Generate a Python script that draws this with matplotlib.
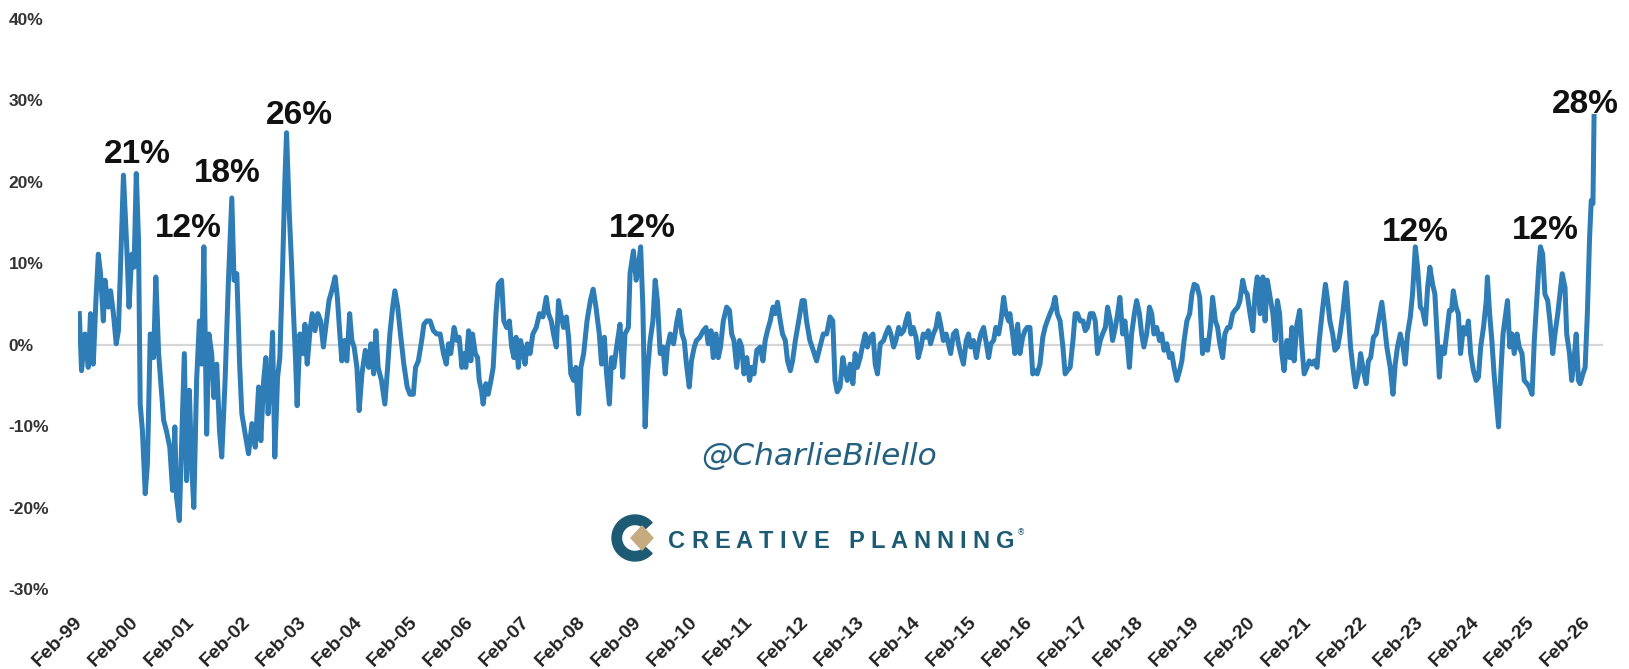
import matplotlib.pyplot as plt
import numpy as np
from matplotlib.font_manager import FontProperties
from matplotlib.patches import Polygon, Wedge
from matplotlib.transforms import IdentityTransform

# Rolling % change, sampled roughly every two to three weeks (decimal years)
dates = [
    1999.07, 1999.11, 1999.17, 1999.23, 1999.27, 1999.32, 1999.37, 1999.41, 1999.45, 1999.50,
    1999.53, 1999.59, 1999.63, 1999.68, 1999.73, 1999.77, 1999.80, 1999.86, 1999.92, 1999.96,
    2000.01, 2000.05, 2000.09, 2000.13, 2000.16, 2000.20, 2000.25, 2000.29, 2000.34, 2000.40,
    2000.44, 2000.49, 2000.53, 2000.58, 2000.63, 2000.69, 2000.74, 2000.78, 2000.81, 2000.86,
    2000.90, 2000.95, 2000.99, 2001.04, 2001.08, 2001.12, 2001.17, 2001.22, 2001.26, 2001.30,
    2001.35, 2001.39, 2001.44, 2001.48, 2001.53, 2001.58, 2001.62, 2001.68, 2001.74, 2001.80,
    2001.84, 2001.89, 2001.94, 2001.98, 2002.04, 2002.10, 2002.16, 2002.22, 2002.28,
    2002.32, 2002.37, 2002.41, 2002.45, 2002.50, 2002.53, 2002.57, 2002.62, 2002.66, 2002.71,
    2002.75, 2002.78, 2002.83, 2002.87, 2002.90, 2002.94, 2002.97, 2003.02, 2003.07, 2003.11,
    2003.15, 2003.20, 2003.24, 2003.29, 2003.34, 2003.39, 2003.44, 2003.49, 2003.54, 2003.59,
    2003.65, 2003.69, 2003.73, 2003.77, 2003.82, 2003.86, 2003.91, 2003.95, 2003.99, 2004.04,
    2004.08, 2004.13, 2004.19, 2004.25, 2004.29, 2004.34, 2004.38, 2004.42, 2004.48, 2004.54,
    2004.59, 2004.63, 2004.68, 2004.72, 2004.77, 2004.82, 2004.88, 2004.94, 2004.99, 2005.05,
    2005.09, 2005.14, 2005.20, 2005.24, 2005.29, 2005.35, 2005.41, 2005.47,
    2005.53, 2005.59, 2005.64, 2005.68, 2005.72, 2005.78, 2005.83, 2005.87, 2005.92, 2005.96,
    2005.99, 2006.04, 2006.08, 2006.11, 2006.16, 2006.20, 2006.23, 2006.27, 2006.30, 2006.35,
    2006.39, 2006.44, 2006.48, 2006.53, 2006.57, 2006.63, 2006.67, 2006.72, 2006.77, 2006.81,
    2006.85, 2006.89, 2006.93, 2006.97, 2007.01, 2007.05, 2007.09, 2007.14, 2007.19, 2007.25,
    2007.31, 2007.37, 2007.43, 2007.47, 2007.52, 2007.56, 2007.61, 2007.65, 2007.69, 2007.74,
    2007.79, 2007.83, 2007.87, 2007.92, 2007.96, 2008.01, 2008.05, 2008.10, 2008.16, 2008.22,
    2008.27, 2008.32, 2008.38, 2008.42, 2008.47, 2008.51, 2008.56, 2008.60, 2008.64, 2008.69,
    2008.75, 2008.80, 2008.84, 2008.90,
    2008.93, 2008.99, 2009.04, 2009.08, 2009.12, 2009.16, 2009.20, 2009.24, 2009.29, 2009.34,
    2009.38, 2009.42, 2009.47, 2009.52, 2009.56, 2009.60, 2009.65, 2009.71, 2009.77, 2009.81,
    2009.86, 2009.90, 2009.94, 2009.99, 2010.03, 2010.08, 2010.12, 2010.18, 2010.24, 2010.29,
    2010.33, 2010.38, 2010.42, 2010.47, 2010.51, 2010.55, 2010.60, 2010.66, 2010.71, 2010.75,
    2010.79, 2010.84, 2010.89, 2010.93, 2010.97, 2011.02, 2011.07, 2011.11, 2011.15, 2011.20,
    2011.26, 2011.31, 2011.35, 2011.39, 2011.44, 2011.49, 2011.53, 2011.57, 2011.62, 2011.66,
    2011.71, 2011.75, 2011.80, 2011.84, 2011.89, 2011.95, 2012.01, 2012.05, 2012.09, 2012.15,
    2012.21, 2012.27,
    2012.33, 2012.39, 2012.45, 2012.51, 2012.56, 2012.60, 2012.64, 2012.69, 2012.74, 2012.78,
    2012.82, 2012.87, 2012.92, 2012.96, 2013.00, 2013.05, 2013.10, 2013.14, 2013.18, 2013.23,
    2013.28, 2013.32, 2013.36, 2013.41, 2013.47, 2013.51, 2013.56, 2013.60, 2013.65, 2013.69,
    2013.74, 2013.78, 2013.83, 2013.87, 2013.91, 2013.96, 2014.00, 2014.05, 2014.09, 2014.14,
    2014.18, 2014.23, 2014.27, 2014.31, 2014.36, 2014.41, 2014.45, 2014.49, 2014.54, 2014.59,
    2014.63, 2014.67, 2014.72, 2014.77, 2014.81, 2014.85, 2014.90, 2014.95, 2014.99, 2015.03,
    2015.08, 2015.13, 2015.17, 2015.21, 2015.26, 2015.31, 2015.35, 2015.39, 2015.44, 2015.48,
    2015.53, 2015.57, 2015.62, 2015.66, 2015.71,
    2015.73, 2015.78, 2015.82, 2015.87, 2015.91, 2015.96, 2016.00, 2016.04, 2016.09, 2016.14,
    2016.18, 2016.22, 2016.27, 2016.32, 2016.36, 2016.40, 2016.45, 2016.50, 2016.54, 2016.58,
    2016.63, 2016.68, 2016.72, 2016.76, 2016.81, 2016.86, 2016.90, 2016.94, 2016.99, 2017.04,
    2017.08, 2017.12, 2017.17, 2017.22, 2017.26, 2017.30, 2017.35, 2017.39, 2017.44, 2017.48,
    2017.53, 2017.57, 2017.62, 2017.66, 2017.70, 2017.75, 2017.79, 2017.84, 2017.87, 2017.91,
    2017.96, 2018.00, 2018.05, 2018.09, 2018.13, 2018.18, 2018.23, 2018.27, 2018.31, 2018.36,
    2018.41, 2018.45, 2018.49, 2018.54, 2018.59, 2018.63, 2018.67, 2018.72, 2018.77, 2018.81,
    2018.85, 2018.90, 2018.95, 2018.99, 2019.03, 2019.08, 2019.13,
    2019.18, 2019.23, 2019.27, 2019.32, 2019.36, 2019.41, 2019.45, 2019.49, 2019.54, 2019.58,
    2019.63, 2019.67, 2019.72, 2019.76, 2019.81, 2019.85, 2019.90, 2019.94, 2019.98, 2020.03,
    2020.08, 2020.12, 2020.16, 2020.21, 2020.26, 2020.30, 2020.34, 2020.39, 2020.44, 2020.48,
    2020.52, 2020.56, 2020.60, 2020.64, 2020.69, 2020.74, 2020.78, 2020.82, 2020.87, 2020.92,
    2020.96, 2021.00, 2021.05, 2021.09, 2021.14, 2021.18, 2021.23, 2021.27, 2021.32, 2021.38,
    2021.42, 2021.46, 2021.51, 2021.55, 2021.60, 2021.64, 2021.69, 2021.75, 2021.79, 2021.83,
    2021.88, 2021.92, 2021.97, 2022.01, 2022.06, 2022.11, 2022.15, 2022.19, 2022.24, 2022.29,
    2022.33, 2022.39, 2022.43, 2022.48,
    2022.54, 2022.59, 2022.63, 2022.67, 2022.72, 2022.77, 2022.81, 2022.85, 2022.90, 2022.94,
    2022.99, 2023.03, 2023.08, 2023.12, 2023.17, 2023.21, 2023.25, 2023.30, 2023.34, 2023.39,
    2023.42, 2023.46, 2023.51, 2023.55, 2023.60, 2023.64, 2023.67, 2023.72, 2023.76, 2023.80,
    2023.85, 2023.90, 2023.94, 2023.98, 2024.03, 2024.08, 2024.12, 2024.16, 2024.21, 2024.26,
    2024.28, 2024.32, 2024.36, 2024.40, 2024.45, 2024.48, 2024.52, 2024.56, 2024.60, 2024.64,
    2024.68, 2024.72, 2024.76, 2024.81, 2024.85, 2024.90, 2024.94, 2024.99, 2025.03, 2025.08,
    2025.12, 2025.15, 2025.20, 2025.23, 2025.27, 2025.31, 2025.36, 2025.40, 2025.45, 2025.49,
    2025.54, 2025.58, 2025.62, 2025.67, 2025.70, 2025.75, 2025.79, 2025.83, 2025.87, 2025.91,
    2025.94, 2025.99, 2026.03, 2026.07, 2026.11, 2026.14, 2026.17, 2026.19,
]

pct = [
    3.8, -3.2, 1.3, -2.8, 3.8, -2.4, 5.8, 11.1, 8.7, 2.9,
    7.9, 4.6, 6.6, 3.8, 0.1, 1.7, 7.9, 20.8, 11.9, 4.6,
    11.1, 9.5, 21.0, 12.8, -7.3, -10.6, -18.3, -14.6, 1.3, -1.6,
    8.3, -1.1, -4.8, -9.3, -10.6, -12.6, -17.9, -10.1, -18.7, -21.6,
    -12.6, -1.1, -16.7, -5.6, -14.6, -20.0, -4.4, 2.9, -2.4, 12.0,
    -11.0, 1.3, -1.1, -6.5, -2.4, -10.6, -13.8, -4.4, 7.9, 18.0,
    7.9, 8.7, -2.4, -8.5, -11.0, -13.4, -9.7, -12.6, -5.2,
    -11.8, -4.4, -1.6, -8.5, -3.2, 1.5, -13.8, -4.0, -1.6, 9.5,
    20.1, 26.0, 16.0, 9.9, 4.6, -1.6, -7.5, 1.3, -1.1, 2.5,
    -2.4, 1.7, 3.8, 1.7, 3.8, 2.9, -0.3, 2.5, 5.4, 6.6,
    8.3, 5.8, 1.7, -2.0, 0.5, -2.0, 3.8, 0.5, -0.3, -2.8,
    -8.1, -3.6, -0.7, -2.8, 0.1, -3.6, 1.7, -2.8, -4.4, -7.3,
    -2.8, 1.3, 4.6, 6.6, 4.6, 1.3, -2.4, -5.2, -6.1, -6.1,
    -2.8, -2.0, 0.5, 2.5, 2.9, 2.9, 1.7, 1.3,
    1.3, -1.1, -2.4, 0.1, -1.1, 2.1, 0.5, 0.9, -2.8, -1.1,
    -2.8, 1.7, -2.0, 1.3, -1.1, -1.6, -4.4, -5.6, -7.3, -4.8,
    -6.1, -4.4, -2.8, 3.8, 7.4, 7.9, 2.9, 2.1, 2.9, -0.3,
    -1.6, 0.9, -2.8, 0.5, -0.7, -2.4, 0.1, -1.1, 1.3, 2.1,
    3.8, 3.4, 5.8, 3.8, 2.9, 1.3, -0.3, 5.4, 3.8, 2.1,
    3.4, 0.9, -3.6, -4.4, -2.8, -8.5, -2.8, -1.1, 2.9, 5.4,
    6.8, 4.6, 1.3, -2.4, 0.9, -3.6, -7.3, -1.6, -2.8, -0.3,
    2.5, -4.0, 1.3, 2.1,
    8.7, 11.5, 7.9, 9.5, 12.0, 4.6, -10.1, -3.6, 0.5, 2.9,
    7.9, 5.4, -1.1, -0.3, -3.6, -0.3, 1.3, 0.1, 2.9, 4.2,
    1.3, 0.5, -2.4, -5.2, -2.0, -0.3, 0.5, 0.9, 1.7, 2.1,
    0.1, 1.7, -1.6, 1.3, -1.6, -0.3, 2.9, 4.6, 4.2, 1.3,
    0.5, -2.8, 0.5, -0.3, -3.6, -1.6, -4.4, -2.8, -3.6, -0.7,
    -0.3, -2.0, 0.5, 1.7, 2.9, 4.6, 3.8, 5.2, 2.9, 1.3,
    0.5, -2.0, -3.2, -2.0, 0.5, 2.9, 5.4, 5.4, 2.9, 0.5,
    -0.7, -2.0,
    -0.3, 1.3, 1.3, 3.4, 2.9, -4.4, -5.8, -5.2, -1.6, -3.2,
    -4.4, -2.4, -4.8, -1.1, -2.8, -1.6, 0.1, 1.3, -0.3, 0.9,
    1.3, -2.4, -3.6, 0.1, 0.5, 1.3, 2.1, 1.3, -0.3, 0.5,
    2.1, 1.3, 1.7, 2.9, 3.8, 1.3, 2.1, 0.9, -1.6, -0.3,
    1.3, 0.9, 1.7, 0.1, 1.3, 2.1, 3.8, 2.5, 0.5, 1.3,
    0.1, -1.1, 1.3, 1.7, 0.1, -1.1, -2.4, 0.5, 1.3, -0.3,
    0.5, -1.6, 0.1, 1.3, 2.1, 0.1, -1.6, 0.1, 0.5, 2.1,
    1.3, 2.9, 5.8, 3.8, 2.9,
    3.8, 1.3, -1.1, 2.5, -1.1, 0.9, 1.7, 2.1, 2.1, -3.6,
    -3.2, -3.6, -2.4, 0.9, 2.1, 2.9, 3.8, 4.6, 5.8, 3.8,
    2.9, -0.3, -3.6, -3.2, -2.8, 0.5, 3.8, 3.8, 2.9, 2.9,
    1.7, 2.1, 3.8, 3.8, 2.9, -1.1, 0.5, 1.3, 2.1, 4.6,
    2.9, 0.5, 2.1, 3.8, 5.8, 1.3, 2.9, -0.3, -2.8, 1.3,
    3.8, 5.4, 3.8, 1.3, -0.3, 1.3, 4.6, 3.8, 1.3, 2.1,
    0.5, 1.3, -0.7, 0.1, -1.6, -1.1, -2.8, -4.4, -3.2, -2.0,
    0.5, 2.9, 3.8, 6.2, 7.4, 7.2, 5.8,
    -1.1, 0.5, -0.7, 2.1, 5.8, 2.9, 2.1, 0.1, -1.6, 1.3,
    2.1, 2.1, 3.8, 4.2, 4.6, 5.4, 7.9, 6.6, 6.2, 3.8,
    1.7, 6.2, 8.3, 3.8, 8.3, 2.9, 7.9, 5.8, 3.8, 0.5,
    5.4, 3.8, -1.1, -3.2, 0.5, -1.6, 2.1, -2.0, 2.5, 4.2,
    -0.3, -3.6, -2.8, -2.0, -2.4, -2.0, -2.8, 0.5, 3.8, 7.4,
    5.4, 2.9, 1.3, -0.7, -0.3, 1.3, 3.8, 7.6, 3.8, -0.3,
    -3.2, -5.2, -3.6, -1.1, -3.2, -4.8, -2.0, -1.6, 0.9, 1.3,
    2.9, 5.2, 2.9, -0.3,
    -2.8, -6.1, -2.4, -0.3, 1.3, -0.3, -2.4, 1.3, 3.4, 6.2,
    12.0, 9.5, 4.6, 4.2, 2.5, 7.0, 9.5, 7.4, 6.2, -0.3,
    -4.0, -0.3, -1.1, 1.3, 4.2, 4.2, 6.6, 4.6, 3.8, -1.1,
    2.1, 1.3, 2.9, -1.1, -3.2, -4.4, -4.0, -0.3, 2.1, 5.4,
    8.3, 3.8, 0.5, -3.6, -7.7, -10.1, -3.6, 1.3, 3.4, 5.4,
    -0.3, 1.3, -1.1, 1.3, -0.3, -1.1, -4.4, -4.8, -5.2, -6.1,
    0.5, 3.8, 9.5, 12.0, 11.1, 6.2, 5.4, 2.9, -1.1, 1.3,
    3.8, 6.2, 8.7, 7.0, 1.3, -1.1, -4.4, -2.0, 1.3, -4.4,
    -4.8, -3.6, -2.8, 3.8, 13.2, 17.7, 17.3, 28.0,
]

# labelled peaks (dates looked up in the series above)
peak_dates = [2000.09, 2001.30, 2001.80, 2002.78, 2009.12, 2022.99, 2025.23, 2026.19]

y_ticks = [-30, -20, -10, 0, 10, 20, 30, 40]
tick_years = list(range(1999, 2027))
tick_labels = [f"Feb-{y % 100:02d}" for y in tick_years]

W, H = 1629, 669
fig = plt.figure(figsize=(W / 100, H / 100), dpi=100)
ax = fig.add_axes([78.2 / W, (H - 589) / H, (1603 - 78.2) / W, (589 - 18.7) / H])

ax.axhline(0, color="#d6d6d6", lw=1.6, zorder=1)
ax.plot(dates, pct, color="#2e7db6", lw=3.6, solid_joinstyle="round", zorder=2)

ax.set_xlim(1999.05, 2026.35)
ax.set_ylim(-30, 40)
for s in ax.spines.values():
    s.set_visible(False)

ax.set_yticks(y_ticks)
ax.set_yticklabels([f"{v}%" for v in y_ticks], ha="left", fontsize=12.5,
                   fontweight="bold", family="Liberation Sans", color="#333333")
ax.tick_params(axis="y", length=0, pad=50)

ax.set_xticks([y + 31 / 365 for y in tick_years])
ax.set_xticklabels(tick_labels, rotation=45, ha="right", va="center",
                   rotation_mode="anchor", fontsize=14, fontweight="bold",
                   family="Liberation Sans", color="#222222")
ax.tick_params(axis="x", length=0, pad=22)

# peak callouts
label_offsets = [(1, 10), (-16, 10), (-5, 16), (13, 9), (2, 10), (0, 6), (5, 8), (-9, 3)]
d = np.array(dates)
v = np.array(pct)
for pdate, (dx, dy) in zip(peak_dates, label_offsets):
    i = int(np.argmin(np.abs(d - pdate)))
    ax.annotate(f"{v[i]:.0f}%", (d[i], v[i]), xytext=(dx, dy),
                textcoords="offset pixels", ha="center", va="baseline",
                fontsize=24, fontweight="bold", family="Liberation Sans",
                color="#111111", zorder=3)

# watermark
fig.text(819 / W, 1 - 457 / H, "@CharlieBilello", ha="center", va="center",
         fontsize=22.5, style="italic", family="DejaVu Sans", color="#24607f")

# logo mark
teal = "#1d5a73"
px = IdentityTransform()
fig.add_artist(Wedge((635, H - 538), 23, 42, 318, width=9.5, color=teal, transform=px))
fig.add_artist(Polygon([(631, H - 538), (642, H - 526), (653, H - 538), (642, H - 550)],
                       closed=True, color="#c6aa80", transform=px))

# spaced-out wordmark
fp = FontProperties(family="Liberation Sans", weight="bold", size=17)
renderer = fig.canvas.get_renderer()
x = 668.0
for ch in "CREATIVE PLANNING":
    fig.text(x / W, 1 - 541 / H, ch, ha="left", va="center", fontproperties=fp, color=teal)
    w = renderer.get_text_width_height_descent(ch, fp, ismath=False)[0]
    if ch == " ":
        w = 7
    x += w + 6.0
fig.text((x - 3) / W, 1 - 533 / H, "\u00ae", ha="left", va="center", fontsize=6, color=teal)

fig.savefig("out.png", dpi=100, facecolor="white")
